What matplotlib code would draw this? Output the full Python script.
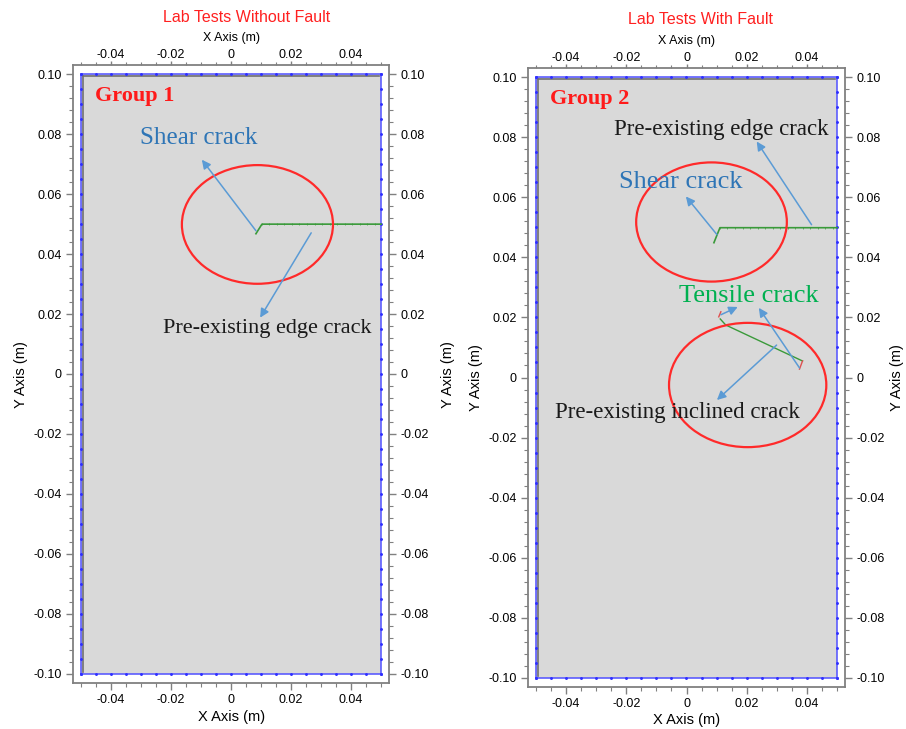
import numpy as np
import matplotlib
matplotlib.use("Agg")
import matplotlib.pyplot as plt
import matplotlib.patches as mpatches
import matplotlib.transforms as mtransforms

# ---------------- data ----------------
x_ticks = [-0.04, -0.02, 0.0, 0.02, 0.04]
x_tick_labels = ["-0.04", "-0.02", "0", "0.02", "0.04"]
y_ticks = [0.10, 0.08, 0.06, 0.04, 0.02, 0.0, -0.02, -0.04, -0.06, -0.08, -0.10]
y_tick_labels = ["0.10", "0.08", "0.06", "0.04", "0.02", "0", "-0.02", "-0.04", "-0.06", "-0.08", "-0.10"]
titles = ["Lab Tests Without Fault", "Lab Tests With Fault"]
groups = ["Group 1", "Group 2"]
specimen = (-0.05, 0.05, -0.10, 0.10)

# Panel 1 cracks
p1_edge_x = [0.0083, 0.0103, 0.05]
p1_edge_y = [0.0468, 0.0500, 0.0500]
p1_ellipses = [(0.0088, 0.0499, 0.0503, 0.0396)]
p1_arrows = [((0.0083, 0.0478), (-0.0097, 0.0715)),
             ((0.0267, 0.0471), (0.0097, 0.0188))]
p1_texts = [("Shear crack", -0.0107, 0.0787, "#2E75B6", 18),
            ("Pre-existing edge crack", 0.0122, 0.0151, "#1a1a1a", 16)]

# Panel 2 cracks
p2_edge_x = [0.0091, 0.0111, 0.05]
p2_edge_y = [0.0449, 0.0499, 0.0499]
p2_incl_x = [0.0112, 0.0130, 0.0385]
p2_incl_y = [0.0195, 0.0175, 0.0055]
p2_tens1_x = [0.0107, 0.0114]
p2_tens1_y = [0.0202, 0.0219]
p2_tens2_x = [0.0385, 0.0375]
p2_tens2_y = [0.0055, 0.0028]
p2_ellipses = [(0.0083, 0.0518, 0.0500, 0.0397),
               (0.0203, -0.0025, 0.0522, 0.0414)]
p2_arrows = [((0.0101, 0.0476), (-0.0002, 0.0603)),
             ((0.0415, 0.0509), (0.0233, 0.0786)),
             ((0.0114, 0.0209), (0.0170, 0.0235)),
             ((0.0375, 0.0032), (0.0240, 0.0232)),
             ((0.0299, 0.0108), (0.0101, -0.0075))]
p2_texts = [("Pre-existing edge crack", 0.0114, 0.0826, "#1a1a1a", 16.5),
            ("Shear crack", -0.0018, 0.0650, "#2E75B6", 19),
            ("Tensile crack", 0.0207, 0.0272, "#00B050", 19),
            ("Pre-existing inclined crack", -0.0031, -0.0115, "#1a1a1a", 16.5)]

# ---------------- figure ----------------
W, H = 906, 729
fig = plt.figure(figsize=(W / 100, H / 100), dpi=100)
plt.rcParams['font.family'] = ['Liberation Sans', 'DejaVu Sans']

def px_axes(l, t, r, b):
    return fig.add_axes([l / W, 1 - b / H, (r - l) / W, (b - t) / H])

axes = [px_axes(73, 65, 389, 683), px_axes(528, 68, 845, 687)]

GRAY = "#808080"
for i, ax in enumerate(axes):
    ax.set_xlim(-0.0526, 0.0526)
    ax.set_ylim(-0.1031, 0.1031)
    ax.set_xticks(x_ticks)
    ax.set_xticklabels(x_tick_labels)
    ax.set_yticks(y_ticks)
    ax.set_yticklabels(y_tick_labels)
    ax.set_xticks(np.arange(-0.05, 0.0501, 0.005), minor=True)
    ax.set_yticks(np.arange(-0.10, 0.1001, 0.004), minor=True)
    ax.tick_params(which="both", direction="out", color=GRAY, top=True, right=True,
                   labeltop=False, labelright=True, labelsize=9, pad=3)
    ax.tick_params(which="major", length=5, width=1)
    ax.tick_params(which="minor", length=3, width=0.8)
    # shorter ticks along the top edge
    for t in ax.xaxis.get_major_ticks():
        t.tick2line.set_markersize(3)
    for t in ax.xaxis.get_minor_ticks():
        t.tick2line.set_markersize(2)
    for s in ax.spines.values():
        s.set_color(GRAY)
        s.set_linewidth(1.3)
    ax.set_facecolor("white")

    # top tick labels (placed closer to the frame than the bottom ones)
    top_tr = mtransforms.offset_copy(ax.get_xaxis_transform(), fig=fig, y=3.0, units="points")
    for xv, lab in zip(x_ticks, x_tick_labels):
        ax.text(xv, 1.0, lab, transform=top_tr, fontsize=9, ha="center", va="bottom")

    x0, x1, y0, y1 = specimen
    ax.add_patch(mpatches.Rectangle((x0, y0), x1 - x0, y1 - y0, facecolor="#d9d9d9",
                                    edgecolor="none", zorder=1))
    # inner shadow lines (top and left)
    ax.plot([x0 + 0.0006, x0 + 0.0006], [y0 + 0.0006, y1 - 0.0006], color="#707070", lw=1.2, zorder=2)
    ax.plot([x0 + 0.0006, x1 - 0.0006], [y1 - 0.0006, y1 - 0.0006], color="#707070", lw=1.2, zorder=2)
    # blue wall with nodes
    ax.plot([x0, x1, x1, x0, x0], [y0, y0, y1, y1, y0], color="#5050ff", lw=1.1, zorder=3)
    xs = np.arange(x0, x1 + 1e-9, 0.005)
    ys = np.arange(y0, y1 + 1e-9, 0.005)
    ax.plot(np.concatenate([xs, xs]), np.concatenate([np.full_like(xs, y0), np.full_like(xs, y1)]),
            ls="none", marker="o", ms=1.1, color="#3030ff", zorder=3)
    ax.plot(np.concatenate([np.full_like(ys, x0), np.full_like(ys, x1)]), np.concatenate([ys, ys]),
            ls="none", marker="o", ms=1.1, color="#3030ff", zorder=3)

def ftext(x, y, s, **kw):
    fig.text(x / W, 1 - y / H, s, **kw)

ftext(247, 17, titles[0], color="#ff2020", fontsize=11.5, ha="center", va="center")
ftext(701, 20, titles[1], color="#ff2020", fontsize=11.5, ha="center", va="center")
ftext(231, 38, "X Axis (m)", fontsize=9, ha="center", va="center")
ftext(686, 41, "X Axis (m)", fontsize=9, ha="center", va="center")
ftext(232, 717, "X Axis (m)", fontsize=10.5, ha="center", va="center")
ftext(687, 720, "X Axis (m)", fontsize=10.5, ha="center", va="center")
ftext(21, 375, "Y Axis (m)", fontsize=10.5, ha="center", va="center", rotation=90)
ftext(448, 375, "Y Axis (m)", fontsize=10.5, ha="center", va="center", rotation=90)
ftext(476, 378, "Y Axis (m)", fontsize=10.5, ha="center", va="center", rotation=90)
ftext(897, 378, "Y Axis (m)", fontsize=10.5, ha="center", va="center", rotation=90)

SERIF = ["Liberation Serif", "DejaVu Serif"]
ARROW = "#5B9BD5"
GREEN = "#3a9a3a"

def draw_panel(ax, edge_x, edge_y, ellipses, arrows, texts, group):
    ax.plot(edge_x, edge_y, color=GREEN, lw=1.2, zorder=4)
    nodes = np.arange(edge_x[1], edge_x[2], 0.0025)
    ax.plot(nodes, np.full(len(nodes), edge_y[1]),
            ls="none", marker="|", ms=1.8, mew=0.5, color=GREEN, zorder=4)
    for (cx, cy, w, h) in ellipses:
        ax.add_patch(mpatches.Ellipse((cx, cy), w, h, fill=False, edgecolor="#ff2a2a", lw=1.6, zorder=5))
    for (s, e) in arrows:
        ax.annotate("", xy=e, xytext=s,
                    arrowprops=dict(arrowstyle="-|>", color=ARROW, lw=1.1, mutation_scale=13,
                                    shrinkA=0, shrinkB=0), zorder=6)
    for (s, x, y, c, fs) in texts:
        ax.text(x, y, s, color=c, fontsize=fs, family=SERIF, ha="center", va="center", zorder=7)
    ax.text(-0.0452, 0.0927, group, color="#ff1a1a", fontsize=16, family=SERIF,
            fontweight="bold", ha="left", va="center", zorder=7)

draw_panel(axes[0], p1_edge_x, p1_edge_y, p1_ellipses, p1_arrows, p1_texts, groups[0])
draw_panel(axes[1], p2_edge_x, p2_edge_y, p2_ellipses, p2_arrows, p2_texts, groups[1])
axes[1].plot(p2_incl_x, p2_incl_y, color=GREEN, lw=1.0, zorder=4)
axes[1].plot(p2_tens1_x, p2_tens1_y, color="#e05050", lw=1.0, zorder=4)
axes[1].plot(p2_tens2_x, p2_tens2_y, color="#e05050", lw=1.0, zorder=4)

fig.savefig("out.png", dpi=100)
